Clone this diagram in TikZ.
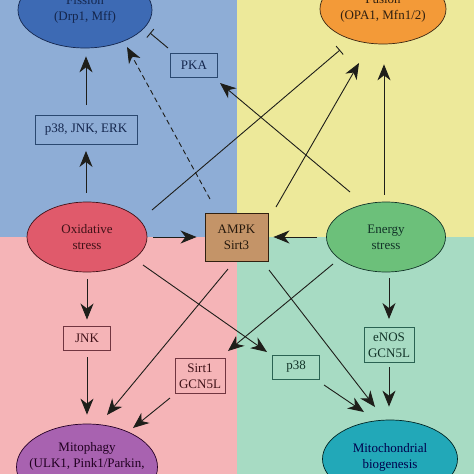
\documentclass[tikz,border=0pt]{standalone}
\usepackage{fontspec}
\setmainfont{Liberation Serif}
\usetikzlibrary{shapes.geometric,arrows.meta}
\definecolor{bgblue}{HTML}{8EADD6}
\definecolor{bgyel}{HTML}{EDE99A}
\definecolor{bgpink}{HTML}{F5B4B7}
\definecolor{bgmint}{HTML}{A7DBC3}
\definecolor{fisfill}{HTML}{3D6AB4}
\definecolor{fusfill}{HTML}{F39A38}
\definecolor{oxfill}{HTML}{E05A6B}
\definecolor{enfill}{HTML}{6CC07A}
\definecolor{mitfill}{HTML}{A862B0}
\definecolor{biofill}{HTML}{22A8B8}
\definecolor{ampkfill}{HTML}{C49468}
\definecolor{linec}{HTML}{1E1E1A}
\definecolor{bluetxt}{HTML}{14264D}
\definecolor{blueline}{HTML}{2A4870}
\definecolor{pinktxt}{HTML}{401218}
\definecolor{pinkline}{HTML}{703540}
\definecolor{greentxt}{HTML}{123328}
\definecolor{greenline}{HTML}{2A6252}
\begin{document}
\begin{tikzpicture}[x=1pt,y=-1pt,
  every node/.style={font=\fontsize{13}{16}\selectfont, align=center},
  ell/.style={ellipse, draw, inner sep=0pt, line width=0.7pt},
  bx/.style={rectangle, draw, line width=0.9pt, inner sep=0pt},
  conn/.style={line width=0.9pt, draw=linec},
  arr/.style={conn, -{Stealth[length=16pt,width=13pt,inset=5pt]}},
  inh/.style={conn, -{Bar[width=11pt,line width=0.9pt]}},
]
\fill[bgblue] (0,0) rectangle (237,237);
\fill[bgyel] (237,0) rectangle (474,237);
\fill[bgpink] (0,237) rectangle (237,474);
\fill[bgmint] (237,237) rectangle (474,474);
\useasboundingbox (0,0) rectangle (474,474);

% ellipses
\node[ell, fill=fisfill, draw=bluetxt, text=bluetxt, minimum width=134pt, minimum height=76pt] (fis) at (85,10) {Fission\\(Drp1, Mff)};
\node[ell, fill=fusfill, draw=black!70!brown, text=black!75!brown, minimum width=126pt, minimum height=70pt] (fus) at (383,9) {Fusion\\(OPA1, Mfn1/2)};
\node[ell, fill=oxfill, draw=pinktxt, text=pinktxt, minimum width=120pt, minimum height=70pt] (ox) at (87,237) {Oxidative\\stress};
\node[ell, fill=enfill, draw=greentxt, text=greentxt, minimum width=119pt, minimum height=70pt] (en) at (386,237) {Energy\\stress};
\node[ell, fill=mitfill, draw=black!70!violet, minimum width=141pt, minimum height=86pt] (mit) at (87,467) {};
\node[text=black!75!violet] (mittxt) at (87,456.5) {Mitophagy\\(ULK1, Pink1/Parkin,};
\node[ell, fill=biofill, draw=black!70!teal, minimum width=135pt, minimum height=78pt] (bio) at (390,459) {};
\node[text=black!70!blue] (biotxt) at (390,457) {Mitochondrial\\biogenesis};

% boxes
\node[bx, fill=ampkfill, draw=black!75!brown, text=black!80!brown, minimum width=63pt, minimum height=48pt] (ampk) at (236.5,237) {AMPK\\Sirt3};
\node[bx, draw=blueline, text=bluetxt, minimum width=47pt, minimum height=24pt] (pka) at (194,65) {PKA};
\node[bx, draw=blueline, text=bluetxt, minimum width=102pt, minimum height=29pt] (pje) at (86,130) {p38, JNK, ERK};
\node[bx, draw=pinkline, text=pinktxt, minimum width=47pt, minimum height=24pt] (jnk) at (87,338) {JNK};
\node[bx, draw=pinkline, text=pinktxt, minimum width=50pt, minimum height=35pt] (sg) at (200,376) {Sirt1\\GCN5L};
\node[bx, draw=greenline, text=greentxt, minimum width=50pt, minimum height=35pt] (eg) at (389,345) {eNOS\\GCN5L};
\node[bx, draw=greenline, text=greentxt, minimum width=47pt, minimum height=24pt] (p38) at (296,367) {p38};

% connectors
\draw[arr, shorten <=9pt, shorten >=6pt] (pje.south |- ox.north) -- (pje.south);
\draw[arr, shorten <=10pt, shorten >=8pt] (pje.north) -- (pje.north |- fis.south);
\draw[arr, dash pattern=on 5pt off 3.5pt] ([shift={(-26.5,-38)}]ampk.center) -- ([shift={(42,37)}]fis.center);
\draw[inh] ([shift={(-26,-17)}]pka.center) -- ([shift={(65,23)}]fis.center);
\draw[arr] ([shift={(-36,-45)}]en.center) -- ([shift={(26,18)}]pka.center);
\draw[inh] ([shift={(65,-27)}]ox.center) -- ([shift={(-43,41)}]fus.center);
\draw[arr] ([shift={(39.5,-30)}]ampk.center) -- ([shift={(-24,54)}]fus.center);
\draw[arr, shorten <=7pt, shorten >=20pt] ([xshift=-2pt]en.north) -- ([xshift=-2pt]en.north |- fus.south);
\draw[arr, shorten <=6pt, shorten >=8pt] (ox.east) -- (ampk.west);
\draw[arr, shorten <=9pt, shorten >=5pt] (en.west) -- (ampk.east);
\draw[arr, shorten <=7pt, shorten >=6pt] (ox.south) -- (jnk.north);
\draw[arr, shorten <=7pt, shorten >=9pt] (jnk.south) -- (jnk.south |- mit.north);
\draw[arr] ([shift={(-8.5,32)}]ampk.center) -- ([shift={(20,-52)}]mit.center);
\draw[arr] ([shift={(-30,22)}]sg.center) -- ([shift={(46,-39)}]mit.center);
\draw[arr] ([shift={(56,28)}]ox.center) -- ([shift={(-29,-15)}]p38.center);
\draw[arr] ([shift={(-53,27)}]en.center) -- ([shift={(28,-25)}]sg.center);
\draw[arr] ([shift={(32.5,33)}]ampk.center) -- ([shift={(-15,-52)}]bio.center);
\draw[arr] ([shift={(28,18)}]p38.center) -- ([shift={(-26,-47)}]bio.center);
\draw[arr, shorten <=6pt, shorten >=8pt] (eg.north |- en.south) -- (eg.north);
\draw[arr, shorten <=4.5pt, shorten >=13pt] (eg.south) -- (eg.south |- bio.north);
\end{tikzpicture}
\end{document}
